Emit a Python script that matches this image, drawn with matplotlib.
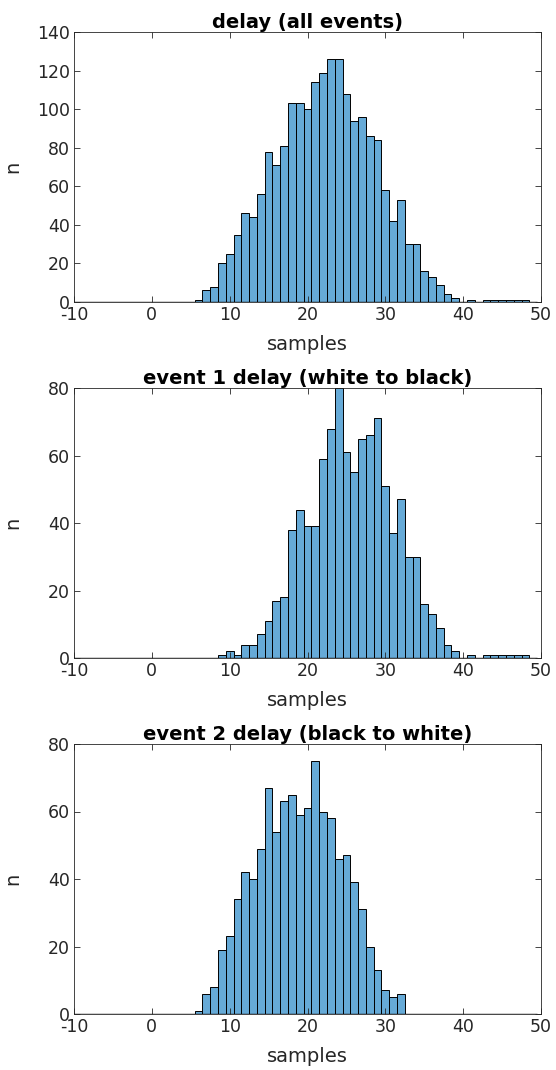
import numpy as np
import matplotlib
matplotlib.use("Agg")
import matplotlib.pyplot as plt

# bin centres are integers -10 .. 49 (width 1)
centers = np.arange(-10, 50)

# counts, for bins 6 .. 48
first_bin = 6
all_events = [1, 6, 8, 20, 25, 35, 46, 44, 56, 78, 71, 81, 103, 103, 100, 114,
              119, 126, 126, 108, 94, 96, 86, 84, 58, 42, 53, 30, 30, 16, 13,
              9, 4, 2, 0, 1, 0, 1, 1, 1, 1, 1, 1]
event1 = [0, 0, 0, 1, 2, 1, 4, 4, 7, 11, 17, 18, 38, 44, 39, 39,
          59, 68, 80, 61, 55, 65, 66, 71, 51, 37, 47, 30, 30, 16, 13,
          9, 4, 2, 0, 1, 0, 1, 1, 1, 1, 1, 1]
event2 = [1, 6, 8, 19, 23, 34, 42, 40, 49, 67, 54, 63, 65, 59, 61, 75,
          60, 58, 46, 47, 39, 31, 20, 13, 7, 5, 6]

titles = ["delay (all events)", "event 1 delay (white to black)",
          "event 2 delay (black to white)"]
ymax = [140, 80, 80]


def full_counts(vals):
    c = np.zeros(len(centers))
    start = first_bin - centers[0]
    c[start:start + len(vals)] = vals
    return c


face = (0.4, 0.667, 0.845)
dark = (0.15, 0.15, 0.15)
plt.rcParams['font.family'] = 'DejaVu Sans'
plt.rcParams['axes.unicode_minus'] = False

fig = plt.figure(figsize=(5.56, 10.70), dpi=100)
left = 74 / 556
width = 467 / 556
bottoms = [302, 658, 1014]
height = 270 / 1070

for i, data in enumerate([all_events, event1, event2]):
    ax = fig.add_axes([left, 1 - bottoms[i] / 1070, width, height])
    counts = full_counts(data)
    ax.bar(centers, counts, width=1.0, color=face, edgecolor='black',
           linewidth=0.7, align='center')
    # zero bins still show their outline along the bottom
    ax.hlines(0, centers[0] - 0.5, centers[-1] + 0.5, color='black',
              linewidth=1.0, zorder=3)
    ax.set_xlim(-10, 50)
    ax.set_ylim(0, ymax[i])
    ax.set_xticks(np.arange(-10, 51, 10))
    ax.set_yticks(np.arange(0, ymax[i] + 1, 20))
    ax.tick_params(direction='in', top=True, right=True, length=4,
                   width=0.6, color=dark, labelcolor=dark, labelsize=12.5,
                   pad=3)
    for s in ax.spines.values():
        s.set_color(dark)
        s.set_linewidth(0.6)
    ax.set_title(titles[i], fontsize=14, fontweight='bold', pad=3)
    ax.set_xlabel("samples", fontsize=14, color=dark, labelpad=8)
    ax.set_ylabel("n", fontsize=14, color=dark)
    ax.yaxis.set_label_coords(-0.11, 0.5)

fig.savefig("out.png", dpi=100)
